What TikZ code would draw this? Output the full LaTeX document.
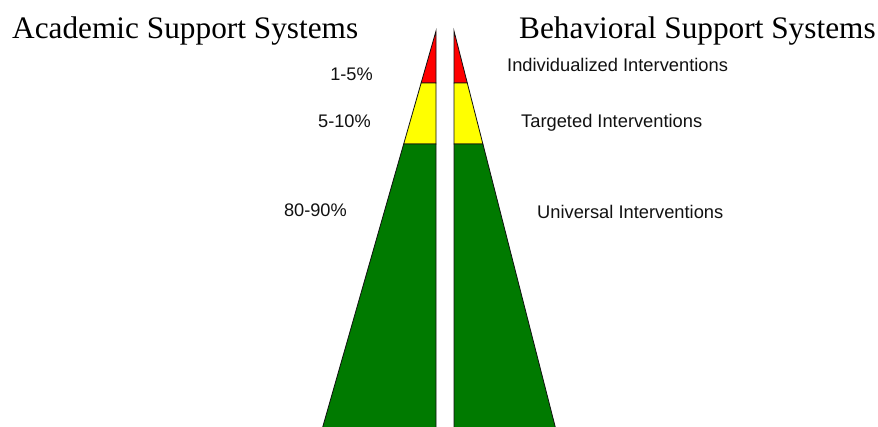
\documentclass[tikz,border=0pt]{standalone}
\usepackage{fontspec}
\setmainfont{Liberation Serif}
\setsansfont{Liberation Sans}
\usepackage{tikz}
\definecolor{tierred}{HTML}{FF0000}
\definecolor{tieryellow}{HTML}{FFFF00}
\definecolor{tiergreen}{HTML}{007A00}
\definecolor{ink}{HTML}{111111}
\tikzset{
  tier/.style    = {draw=ink, line width=0.8pt, line join=miter},
  heading/.style = {font=\fontsize{31.3}{36}\selectfont, text=black, inner sep=0pt, anchor=base west},
  share/.style   = {font=\sffamily\fontsize{18.2}{21}\selectfont, text=ink, inner sep=0pt, anchor=base east},
  level/.style   = {font=\sffamily\fontsize{18.3}{21}\selectfont, text=ink, inner sep=0pt, anchor=base west},
}

\begin{document}
\begin{tikzpicture}[x=1pt, y=-1pt]
  \useasboundingbox (0,0) rectangle (878,426);

  % two half pyramids, one tier at a time (top/bottom/colour)
  \foreach \top/\bot/\col in {31/83/tierred, 83/144/tieryellow, 144/432/tiergreen}{
    \draw[tier, fill=\col] ({436-(\top-31)*0.2861},\top) -- (436,\top) -- (436,\bot)
      -- ({436-(\bot-31)*0.2861},\bot) -- cycle;
    \draw[tier, fill=\col] ({454+(\top-31)*0.2557},\top) -- (454,\top) -- (454,\bot)
      -- ({454+(\bot-31)*0.2557},\bot) -- cycle;
  }

  \node[heading] (acad) at (12,38)  {Academic Support Systems};
  \node[heading] (behav) at (519,38) {Behavioral Support Systems};

  \node[share] (s1) at (373,80)  {1-5\%};
  \node[share] (s2) at (371,127) {5-10\%};
  \node[share] (s3) at (347,216) {80-90\%};

  \node[level] (l1) at (507,71)  {Individualized Interventions};
  \node[level] (l2) at (521,127) {Targeted Interventions};
  \node[level] (l3) at (537,218) {Universal Interventions};
\end{tikzpicture}
\end{document}
